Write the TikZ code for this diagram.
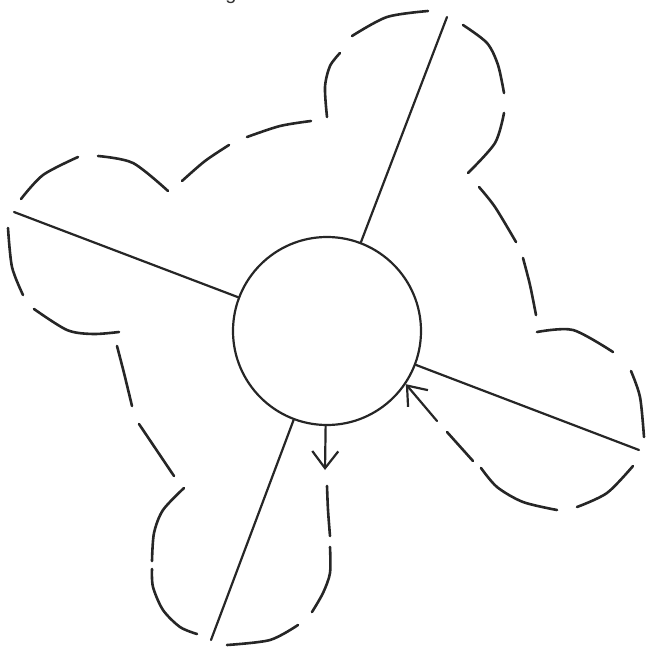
\documentclass[tikz,border=0pt]{standalone}
\usepackage{fontspec}
\setsansfont{Liberation Sans}
\usetikzlibrary{arrows.meta}
\begin{document}
\begin{tikzpicture}[x=1pt,y=-1pt,
  ink/.style={draw=black!85, line width=2.2pt, line cap=round},
  dashseg/.style={ink, line width=2.6pt},
  arr/.style={ink, -{Straight Barb[length=17pt,width=26pt,line width=2.2pt]}},
  hubstyle/.style={circle, ink, minimum size=188pt, inner sep=0pt}]
\useasboundingbox (0,0) rectangle (646,648);
% cut-off text at top edge
\node[anchor=base, font=\fontsize{20}{24}\selectfont\sffamily, inner sep=0pt, text=black!80] (gfrag) at (231,-1) {g};
% hub
\node[hubstyle] (hub) at (327,331) {};
% radial lines
\coordinate (eUR) at (447,17);
\coordinate (eL) at (14,212);
\coordinate (eLR) at (639,450);
\coordinate (eLL) at (211,640);
\draw[ink] (hub) -- (eUR);
\draw[ink] (hub) -- (eL);
\draw[ink] (hub) -- (eLR);
\draw[ink] (hub) -- (eLL);
% outgoing arrow
\coordinate (aout) at (325,470);
\draw[arr] (hub) -- (aout);
% incoming arrow
\coordinate (ain) at (437,421);
\draw[arr] (ain) -- (hub.-34.5);
% dashed flow line, dash by dash
\draw[dashseg] plot[smooth] coordinates {(327,486) (328,510) (330,536)};
\draw[dashseg] plot[smooth] coordinates {(330,547) (330,573) (323,593) (312,612)};
\draw[dashseg] plot[smooth] coordinates {(298,625) (270,640) (227,645)};
\draw[dashseg] plot[smooth] coordinates {(197,634) (180,627) (163,610) (153,587) (152,569)};
\draw[dashseg] plot[smooth] coordinates {(152,561) (154,533) (163,510) (184,488)};
\draw[dashseg] plot[smooth] coordinates {(174,476) (139,424)};
\draw[dashseg] plot[smooth] coordinates {(132,406) (124,373) (117,346)};
\draw[dashseg] plot[smooth] coordinates {(119,332) (93,334) (67,330) (34,309)};
\draw[dashseg] plot[smooth] coordinates {(23,295) (12,267) (8,228)};
\draw[dashseg] plot[smooth] coordinates {(21,199) (43,175) (78,157)};
\draw[dashseg] plot[smooth] coordinates {(98,156) (133,163) (168,191)};
\draw[dashseg] plot[smooth] coordinates {(182,181) (205,161) (229,145)};
\draw[dashseg] plot[smooth] coordinates {(247,137) (280,126) (311,121)};
\draw[dashseg] plot[smooth] coordinates {(327,117) (325,87) (330,66) (340,53)};
\draw[dashseg] plot[smooth] coordinates {(352,36) (387,17) (428,11)};
\draw[dashseg] plot[smooth] coordinates {(463,25) (487,43) (498,65) (504,93)};
\draw[dashseg] plot[smooth] coordinates {(504,113) (495,143) (468,173)};
\draw[dashseg] plot[smooth] coordinates {(479,187) (495,207) (516,242)};
\draw[dashseg] plot[smooth] coordinates {(523,258) (530,285) (536,315)};
\draw[dashseg] plot[smooth] coordinates {(537,332) (573,330) (613,352)};
\draw[dashseg] plot[smooth] coordinates {(631,371) (640,397) (644,437)};
\draw[dashseg] plot[smooth] coordinates {(633,466) (607,493) (577,507)};
\draw[dashseg] plot[smooth] coordinates {(557,510) (523,502) (497,487) (481,468)};
\draw[dashseg] plot[smooth] coordinates {(473,461) (447,432)};
\end{tikzpicture}
\end{document}
